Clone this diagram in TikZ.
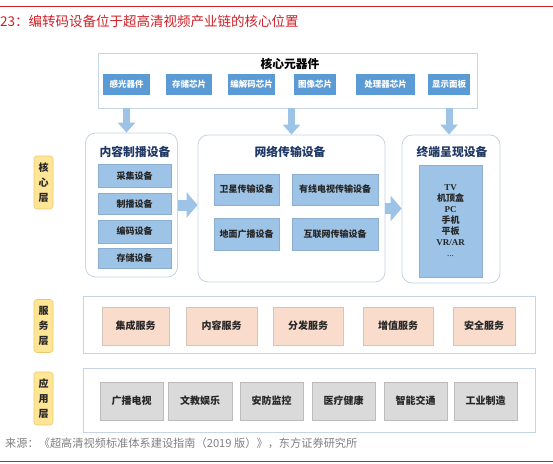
\documentclass[tikz,border=0pt]{standalone}
\usepackage{fontspec}
\setmainfont{Noto Sans CJK SC}
\newfontfamily\latinserif{Liberation Serif}
\usetikzlibrary{arrows.meta}
\definecolor{chipblue}{RGB}{91,155,213}
\definecolor{lightblue}{RGB}{157,195,230}
\definecolor{frameblue}{RGB}{198,212,228}
\definecolor{labelyellow}{RGB}{255,229,150}
\definecolor{labelline}{RGB}{238,200,110}
\definecolor{peach}{RGB}{250,220,205}
\definecolor{peachline}{RGB}{214,196,186}
\definecolor{greybox}{RGB}{218,218,218}
\definecolor{greyline}{RGB}{188,188,188}
\definecolor{titlenavy}{RGB}{31,56,100}
\definecolor{reportred}{RGB}{206,32,40}

\begin{document}
\begin{tikzpicture}[x=1pt, y=-1pt,
  every node/.style={inner sep=0pt},
  frame/.style={draw=frameblue, fill=white, line width=0.8pt},
  group/.style={frame, rounded corners=10pt},
  chip/.style={fill=chipblue, text=white, minimum height=21pt, font=\bfseries\fontsize{8.5}{9}\selectfont},
  device/.style={fill=lightblue, draw=lightblue!90!black, line width=0.3pt, text=black!85, font=\bfseries\fontsize{9}{10}\selectfont},
  grouptitle/.style={text=titlenavy, font=\bfseries\fontsize{11.8}{13}\selectfont},
  layer/.style={fill=labelyellow, draw=labelline, line width=0.6pt, rounded corners=3pt, minimum width=19pt, minimum height=53pt, align=center, text=black!85, font=\bfseries\fontsize{10}{15}\selectfont},
  service/.style={fill=peach, draw=peachline, line width=0.6pt, minimum height=38pt, text=black!85, font=\bfseries\fontsize{10}{11}\selectfont},
  usecase/.style={fill=greybox, draw=greyline, line width=0.6pt, minimum height=38pt, text=black!85, font=\bfseries\fontsize{10}{11}\selectfont},
  downarrow/.style={draw=lightblue, line width=7pt, -{Triangle[width=17pt,length=10pt]}},
  rightarrow/.style={draw=lightblue, line width=11pt, -{Triangle[width=25pt,length=11pt]}}
]
\useasboundingbox (0,0) rectangle (553,463);

\draw[reportred, line width=0.8pt] (0,6) -- (553,6);
\draw[reportred, line width=0.8pt] (0,461.5) -- (553,461.5);
\node[anchor=west, text=reportred, font=\fontsize{13.5}{15}\selectfont] (caption) at (0,21) {23：编转码设备位于超高清视频产业链的核心位置};
\node[anchor=west, text=black!50, font=\fontsize{11.2}{13}\selectfont] (source) at (5,443) {来源：《超高清视频标准体系建设指南（2019 版）》，东方证券研究所};

\node[frame, minimum width=379pt, minimum height=55pt] (core) at (287.5,80.5) {};
\node[font=\bfseries\fontsize{11.8}{13}\selectfont] (coretitle) at (290,64) {核心元器件};
\node[chip, minimum width=47pt] (sense) at (126.5,84.5) {感光器件};
\node[chip, minimum width=46pt] (store) at (189,84.5) {存储芯片};
\node[chip, minimum width=47pt] (codec) at (251.5,84.5) {编解码芯片};
\node[chip, minimum width=42pt] (image) at (315,84.5) {图像芯片};
\node[chip, minimum width=59pt] (cpu) at (385.5,84.5) {处理器芯片};
\node[chip, minimum width=42pt] (panel) at (449,84.5) {显示面板};

\node[group, minimum width=92pt, minimum height=144pt] (content) at (131.5,205) {};
\node[grouptitle] (contenttitle) at (135,152) {内容制播设备};
\node[device, minimum width=73pt, minimum height=23pt] (capture) at (134.5,176) {采集设备};
\node[device, minimum width=73pt, minimum height=21pt] (produce) at (134.5,204) {制播设备};
\node[device, minimum width=73pt, minimum height=23pt] (encode) at (134.5,231.5) {编码设备};
\node[device, minimum width=73pt, minimum height=20pt] (storage) at (134.5,258.5) {存储设备};

\node[group, minimum width=187pt, minimum height=147pt] (network) at (291.5,208.5) {};
\node[grouptitle] (networktitle) at (290,152) {网络传输设备};
\node[device, minimum width=65pt, minimum height=31pt] (satellite) at (246.5,189.5) {卫星传输设备};
\node[device, minimum width=86pt, minimum height=31pt] (cable) at (335,189.5) {有线电视传输设备};
\node[device, minimum width=65pt, minimum height=32pt] (terrestrial) at (246.5,234) {地面广播设备};
\node[device, minimum width=86pt, minimum height=32pt] (internet) at (335,234) {互联网传输设备};

\node[group, minimum width=98pt, minimum height=148pt] (terminal) at (451,209) {};
\node[grouptitle] (terminaltitle) at (452,152) {终端呈现设备};
\node[device, minimum width=63pt, minimum height=112pt, align=center, font=\bfseries\fontsize{9}{11}\selectfont] (screens) at (450.5,221)
  {{\latinserif TV}\\机顶盒\\{\latinserif PC}\\手机\\平板\\{\latinserif VR/AR}\\{\latinserif\mdseries ...}};

\draw[downarrow] (core.south -| sense) -- (content.north -| sense);
\draw[downarrow] (core.south -| network) -- (network.north);
\draw[downarrow] (core.south -| panel) -- (terminal.north -| panel);
\draw[rightarrow] (content.east) -- (content.east -| network.west);
\draw[rightarrow] (network.east) -- (network.east -| terminal.west);

\node[layer] (corelayer) at (43.5,182.5) {核\\心\\层};
\node[layer] (servicelayer) at (43.5,326) {服\\务\\层};
\node[layer] (applayer) at (43.5,398.5) {应\\用\\层};

\node[frame, minimum width=452pt, minimum height=57pt] (services) at (309,324.5) {};
\node[service, minimum width=67pt] (integrate) at (135.5,326) {集成服务};
\node[service, minimum width=71pt] (contentsvc) at (221.5,326) {内容服务};
\node[service, minimum width=70pt] (distribute) at (308,326) {分发服务};
\node[service, minimum width=70pt] (valueadd) at (398,326) {增值服务};
\node[service, minimum width=62pt] (security) at (484,326) {安全服务};

\node[frame, minimum width=452pt, minimum height=64pt] (apps) at (309,400) {};
\node[usecase, minimum width=63pt] (broadcast) at (131.5,401) {广播电视};
\node[usecase, minimum width=64pt] (culture) at (200,401) {文教娱乐};
\node[usecase, minimum width=63pt] (surveil) at (271.5,401) {安防监控};
\node[usecase, minimum width=63pt] (health) at (343.5,401) {医疗健康};
\node[usecase, minimum width=63pt] (traffic) at (415.5,401) {智能交通};
\node[usecase, minimum width=63pt] (industry) at (485.5,401) {工业制造};
\end{tikzpicture}
\end{document}
